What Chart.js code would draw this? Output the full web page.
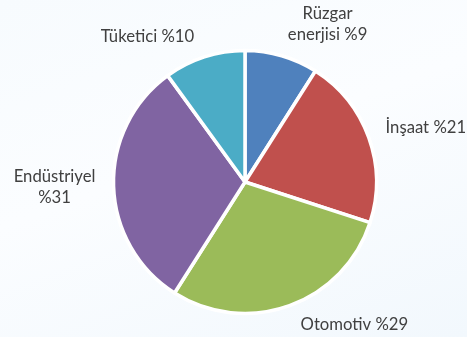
<!DOCTYPE html>
<html>
<head>
<meta charset="utf-8">
<script src="https://cdn.jsdelivr.net/npm/chart.js@4.4.1/dist/chart.umd.min.js"></script>
<style>
  html, body { margin: 0; padding: 0; }
  body {
    width: 467px; height: 337px; overflow: hidden;
    background: linear-gradient(160deg, #f7fbfe 0%, #fbfdff 45%, #f2f8fd 100%);
  }
  #wrap { position: relative; width: 467px; height: 337px; }
</style>
</head>
<body>
<div id="wrap"><canvas id="pie" width="467" height="337"></canvas></div>
<script>
// Sector shares, clockwise from 12 o'clock
const sectors = ['Rüzgar enerjisi', 'İnşaat', 'Otomotiv', 'Endüstriyel', 'Tüketici'];
const shares = [9, 21, 29, 31, 10];
// Text lines printed beside each slice
const labelLines = [
  ['Rüzgar', 'enerjisi %9'],
  ['İnşaat %21'],
  ['Otomotiv %29'],
  ['Endüstriyel', '%31'],
  ['Tüketici %10']
];

const sliceColors = ['#4F81BD', '#C0504D', '#9BBB59', '#8064A2', '#4BACC6'];
// Label placement: nudge (px) from the point just outside each slice's mid-angle
const labelNudge = [[37, -1], [27, 1], [54, -11], [-27, 0], [-47, 10]];

const outsideLabels = {
  id: 'outsideLabels',
  afterDatasetsDraw(chart) {
    const ctx = chart.ctx;
    const arcs = chart.getDatasetMeta(0).data;
    ctx.save();
    ctx.font = '16.7px Lato, "Open Sans", sans-serif';
    ctx.fillStyle = '#404040';
    ctx.textAlign = 'center';
    ctx.textBaseline = 'middle';
    const lineH = 21.5;
    arcs.forEach((arc, i) => {
      const { x, y, startAngle, endAngle, outerRadius } = arc.getProps(['x', 'y', 'startAngle', 'endAngle', 'outerRadius'], true);
      const mid = (startAngle + endAngle) / 2;
      const r = outerRadius + 32;
      const cx = x + Math.cos(mid) * r + labelNudge[i][0];
      const cy = y + Math.sin(mid) * r + labelNudge[i][1];
      const lines = labelLines[i];
      lines.forEach((t, k) => {
        ctx.fillText(t, cx, cy + (k - (lines.length - 1) / 2) * lineH);
      });
    });
    ctx.restore();
  }
};

new Chart(document.getElementById('pie'), {
  type: 'pie',
  data: {
    labels: sectors,
    datasets: [{
      data: shares,
      backgroundColor: sliceColors,
      borderColor: '#ffffff',
      borderWidth: 3.5
    }]
  },
  options: {
    responsive: false,
    animation: false,
    radius: 131.5,
    layout: { padding: { left: 23, right: 0, top: 49, bottom: 22 } },
    plugins: {
      legend: { display: false },
      tooltip: { enabled: false }
    }
  },
  plugins: [outsideLabels]
});
</script>
</body>
</html>
